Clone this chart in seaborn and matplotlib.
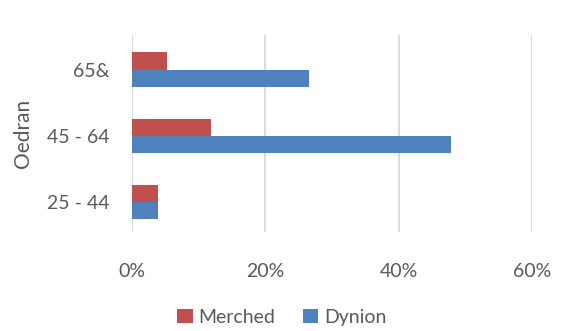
import numpy as np
import pandas as pd
import seaborn as sns
from matplotlib import pyplot as plt
from matplotlib.ticker import PercentFormatter

age_groups = ["65&", "45 - 64", "25 - 44"]
merched = [5.3, 11.9, 3.9]
dynion = [26.5, 47.9, 3.9]
series = ["Merched", "Dynion"]

df = pd.DataFrame({
    "Oedran": age_groups * 2,
    "value": merched + dynion,
    "group": [series[0]] * 3 + [series[1]] * 3,
})

sns.set_style("white")
plt.rcParams["font.family"] = ["Lato", "DejaVu Sans"]
text_col = "#595959"

fig = plt.figure(figsize=(5.64, 3.31), dpi=100)
ax = fig.add_axes([0.234, 0.299, 0.709, 0.595])

sns.barplot(data=df, x="value", y="Oedran", hue="group", order=age_groups,
            hue_order=series, palette=["#C0504D", "#4F81BD"], width=0.52,
            saturation=1, linewidth=0, orient="h", ax=ax, legend=True)

ax.set_xlim(0, 60)
ax.set_ylim(2.45, -0.52)
ax.set_xticks([0, 20, 40, 60])
ax.xaxis.set_major_formatter(PercentFormatter(decimals=0))
ax.grid(axis="x", color="#D9D9D9", linewidth=1.3)
ax.set_axisbelow(True)
for s in ax.spines.values():
    s.set_visible(False)
ax.tick_params(axis="x", length=0, pad=22, labelsize=14, labelcolor=text_col)
ax.tick_params(axis="y", length=0, pad=16, labelsize=14, labelcolor=text_col)
ax.set_xlabel("")
ax.set_ylabel("Oedran", fontsize=15, color=text_col, labelpad=10)

ax.legend(loc="upper center", bbox_to_anchor=(0.375, -0.3), ncol=2, frameon=False,
          fontsize=14, labelcolor=text_col, handlelength=0.8, handleheight=0.8,
          handletextpad=0.3, columnspacing=1.4)

plt.savefig("out.png", dpi=100)
plt.close(fig)
